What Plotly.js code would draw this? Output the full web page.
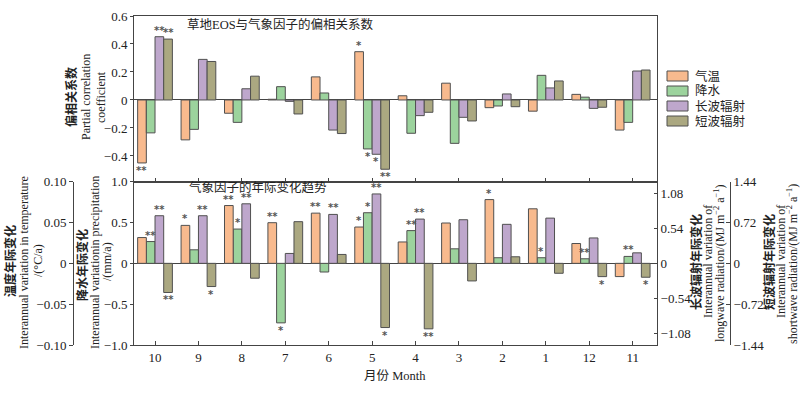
<!DOCTYPE html>
<html>
<head>
<meta charset="utf-8">
<script src="https://cdn.plot.ly/plotly-3.0.1.min.js"></script>
<style>html,body{margin:0;padding:0;background:#fff;}#chart{width:800px;height:395px;}</style>
</head>
<body>
<div id="chart"></div>
<script>
// ---------------- data ----------------
const months = ['10','9','8','7','6','5','4','3','2','1','12','11'];
const seriesNames = ['气温','降水','长波辐射','短波辐射'];

// Partial correlation of grassland EOS with climate factors
const corrTemp   = [-0.45,-0.285,-0.095,0.005,0.165,0.345,0.03,0.12,-0.055,-0.08,0.04,-0.215];
const corrPrecip = [-0.235,-0.21,-0.16,0.095,0.05,-0.35,-0.238,-0.31,-0.043,0.176,0.02,-0.16];
const corrLong   = [0.452,0.29,0.08,-0.01,-0.215,-0.388,-0.112,-0.124,0.043,0.086,-0.06,0.207];
const corrShort  = [0.435,0.275,0.17,-0.1,-0.24,-0.495,-0.088,-0.15,-0.048,0.136,-0.052,0.214];
const sigCorrTemp   = ['**','','','','','*','','','','','',''];
const sigCorrPrecip = ['','','','','','*','','','','','',''];
const sigCorrLong   = ['**','','','','','*','','','','','',''];
const sigCorrShort  = ['**','','','','','**','','','','','',''];

// Interannual trends of climate factors
const trendTemp   = [0.0316,0.0465,0.0708,0.0498,0.0615,0.0445,0.0262,0.0494,0.0781,0.0668,0.0243,-0.0162];
const trendPrecip = [0.267,0.166,0.42,-0.729,-0.106,0.62,0.401,0.178,0.069,0.069,0.056,0.085];
const trendLong   = [0.735,0.735,0.919,0.153,0.755,1.071,0.683,0.673,0.602,0.698,0.392,0.162];
const trendShort  = [-0.514,-0.409,-0.262,0.735,0.157,-1.132,-1.155,-0.31,0.116,-0.175,-0.234,-0.245];
const sigTrendTemp   = ['','*','**','**','**','*','','','*','','',''];
const sigTrendPrecip = ['**','','*','*','','*','**','','','*','**','**'];
const sigTrendLong   = ['**','**','**','','**','**','**','','','','',''];
const sigTrendShort  = ['**','*','','','','*','**','','','','*','*'];

// tick labels
const corrTickVals = [-0.4,-0.2,0,0.2,0.4,0.6];
const corrTickText = ['−0.4','−0.2','0','0.2','0.4','0.6'];
const tempTickVals = [-0.1,-0.05,0,0.05,0.1];
const tempTickText = ['−0.10','−0.05','0','0.05','0.10'];
const precTickVals = [-1,-0.5,0,0.5,1];
const precTickText = ['−1.0','−0.5','0','0.5','1.0'];
const longTickVals = [-1.08,-0.54,0,0.54,1.08];
const longTickText = ['−1.08','−0.54','0','0.54','1.08'];
const shortTickVals = [-1.44,-0.72,0,0.72,1.44];
const shortTickText = ['−1.44','−0.72','0','0.72','1.44'];

// ---------------- styles ----------------
const colors = ['#F8BA8E','#9CD39D','#BEA7CC','#ABA881'];
const edge = '#505050';
const FONT = 'Liberation Serif, "Times New Roman", "Noto Sans CJK SC", serif';
const STAR_FONT = {family: 'DejaVu Sans', size: 10, color: '#555', weight: 'bold'};
const W = 800, H = 395;
const mT = 16, mB = 50;
const plotH = H - mT - mB;
const px2x = p => p / W;
const px2y = p => (H - mB - p) / plotH;
const splitY = px2y(181.7);
const xDom = [px2x(134), px2x(657)];
const barW = 0.2;
const offsets = [-0.4,-0.2,0,0.2];
const xi = months.map((m,i)=>i);

const traces = [];
const annotations = [];

const topSeries = [corrTemp, corrPrecip, corrLong, corrShort];
const topSig = [sigCorrTemp, sigCorrPrecip, sigCorrLong, sigCorrShort];
const botSeries = [trendTemp, trendPrecip, trendLong, trendShort];
const botSig = [sigTrendTemp, sigTrendPrecip, sigTrendLong, sigTrendShort];
const botAxes = ['y3','y2','y4','y5'];

function addSig(sigArr, vals, s, xref, yref) {
  sigArr.forEach((t,i)=>{
    if (!t) return;
    const pos = vals[i] >= 0;
    annotations.push({
      x: i + offsets[s] + barW/2, y: vals[i], xref: xref, yref: yref,
      text: t, showarrow: false, xanchor: 'center',
      yanchor: pos ? 'bottom' : 'top', yshift: pos ? -1 : 0,
      font: STAR_FONT
    });
  });
}

topSeries.forEach((vals,s)=>{
  traces.push({
    type:'bar', x: xi, y: vals, xaxis:'x', yaxis:'y',
    width: barW, offset: offsets[s],
    marker:{color: colors[s], line:{color: edge, width: 1}},
    name: seriesNames[s], showlegend: false, hoverinfo:'skip'
  });
  addSig(topSig[s], vals, s, 'x', 'y');
});
botSeries.forEach((vals,s)=>{
  traces.push({
    type:'bar', x: xi, y: vals, xaxis:'x2', yaxis: botAxes[s],
    width: barW, offset: offsets[s],
    marker:{color: colors[s], line:{color: edge, width: 1}},
    name: seriesNames[s], showlegend: false, hoverinfo:'skip'
  });
  addSig(botSig[s], vals, s, 'x2', botAxes[s]);
});

function ptext(text, xp, yp, size, xanchor) {
  annotations.push({x: px2x(xp), y: px2y(yp), xref:'paper', yref:'paper', showarrow:false,
    xanchor: xanchor || 'center', yanchor:'middle',
    text: text, font:{family: FONT, size: size, color:'#222'}});
}
// panel titles
ptext('草地EOS与气象因子的偏相关系数', 280, 25, 12.5);
ptext('气象因子的年际变化趋势', 258, 187, 12.5);
ptext('月份 Month', 395, 376, 12.5);

// rotated axis titles
function vtitle(text, xp, yp, size, bold) {
  annotations.push({x: px2x(xp), y: px2y(yp), xref:'paper', yref:'paper', showarrow:false,
    textangle: -90, xanchor:'center', yanchor:'middle',
    text: bold ? '<b>'+text+'</b>' : text,
    font:{family: FONT, size: size, color:'#222'}});
}
vtitle('偏相关系数', 71, 97, 12, true);
vtitle('Partial correlation', 86, 97, 12, false);
vtitle('coefficient', 101, 97, 12, false);
vtitle('温度年际变化', 10, 261, 12, true);
vtitle('Interannual variation in temperature', 24, 263, 12, false);
vtitle('/(°C/a)', 38, 261, 12, false);
vtitle('降水年际变化', 82, 265, 12, true);
vtitle('Interannual variationin precipitation', 95, 263, 12, false);
vtitle('/(mm/a)', 107, 262, 12, false);
vtitle('长波辐射年际变化', 696, 262, 12, true);
vtitle('Interannual variation of', 708, 262, 12, false);
vtitle('longwave radiation/(MJ m<sup>−2</sup> a<sup>−1</sup>)', 719, 264, 12, false);
vtitle('短波辐射年际变化', 769, 262, 12, true);
vtitle('Interannual variation of', 781, 262, 12, false);
vtitle('shortwave radiation/(MJ m<sup>−2</sup> a<sup>−1</sup>)', 792, 264, 12, false);

// manual legend
const shapes = [];
seriesNames.forEach((n,s)=>{
  const cy = 76 + s*15;
  shapes.push({type:'rect', xref:'paper', yref:'paper',
    x0: px2x(667), x1: px2x(688), y0: px2y(cy+5), y1: px2y(cy-5),
    fillcolor: colors[s], line:{color: edge, width: 1}});
  ptext(n, 693, cy, 12.5, 'left');
});

const axisLine = {showline:true, linecolor:'#444', linewidth:1, showgrid:false, zeroline:false};
const tickFont = {family: FONT, size: 13, color:'#222'};
const xRange = [-0.484, 11.56];

const layout = {
  width: W, height: H,
  margin: {l:0, r:0, t:mT, b:mB},
  paper_bgcolor:'#fff', plot_bgcolor:'rgba(0,0,0,0)',
  barmode:'overlay',
  showlegend:false,
  font:{family: FONT, color:'#222'},
  xaxis: Object.assign({}, axisLine, {domain: xDom, anchor:'y', range: xRange,
    tickvals: xi, ticktext: months, showticklabels:false, ticks:'inside', ticklen:4,
    tickcolor:'#444', mirror:true}),
  yaxis: Object.assign({}, axisLine, {domain:[splitY,1], anchor:'x', range:[-0.584,0.6],
    tickvals: corrTickVals, ticktext: corrTickText, ticks:'outside', ticklen:3, tickcolor:'#444',
    tickfont: tickFont, mirror:true, zeroline:true, zerolinecolor:'#444', zerolinewidth:1}),
  xaxis2: Object.assign({}, axisLine, {domain: xDom, anchor:'y2', range: xRange,
    tickvals: xi, ticktext: months, ticks:'inside', ticklen:4, tickcolor:'#444',
    tickfont: tickFont, mirror:true}),
  yaxis2: Object.assign({}, axisLine, {domain:[0,splitY], anchor:'x2', range:[-1,1],
    tickvals: precTickVals, ticktext: precTickText, ticks:'outside', ticklen:3, tickcolor:'#444',
    tickfont: tickFont, mirror:true, zeroline:true, zerolinecolor:'#444', zerolinewidth:1}),
  yaxis3: Object.assign({}, axisLine, {overlaying:'y2', side:'left', anchor:'free',
    position: px2x(73), range:[-0.1,0.1],
    tickvals: tempTickVals, ticktext: tempTickText, ticks:'outside', ticklen:4, tickcolor:'#444',
    tickfont: tickFont}),
  yaxis4: Object.assign({}, axisLine, {overlaying:'y2', side:'right', anchor:'x2',
    range:[-1.26,1.26],
    tickvals: longTickVals, ticktext: longTickText, ticks:'inside', ticklen:3, tickcolor:'#444',
    tickfont: tickFont}),
  yaxis5: Object.assign({}, axisLine, {overlaying:'y2', side:'right', anchor:'free',
    position: px2x(730), range:[-1.44,1.44],
    tickvals: shortTickVals, ticktext: shortTickText, ticks:'inside', ticklen:4, tickcolor:'#444',
    tickfont: tickFont}),
  annotations: annotations,
  shapes: shapes
};

Plotly.newPlot('chart', traces, layout, {staticPlot:true, displayModeBar:false});
</script>
</body>
</html>
